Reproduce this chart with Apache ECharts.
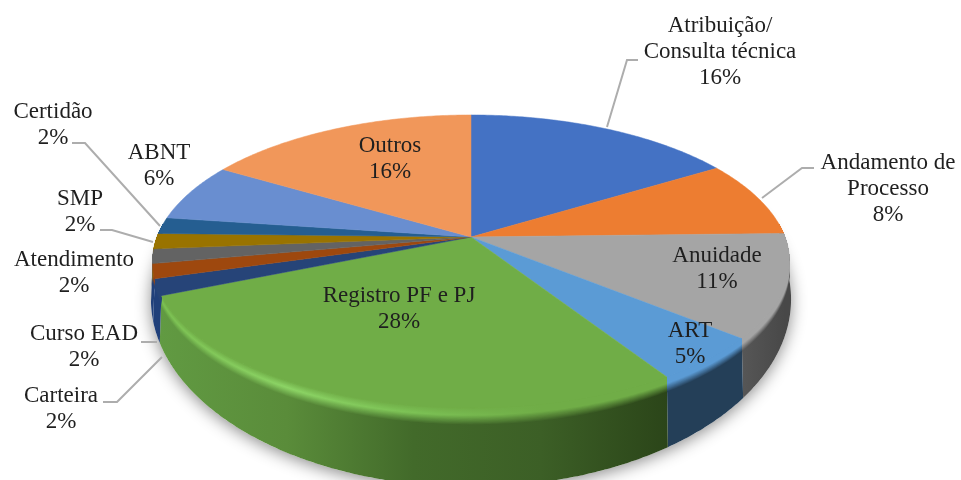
<!DOCTYPE html>
<html>
<head>
<meta charset="utf-8">
<style>
  html, body { margin: 0; padding: 0; background: #fff; }
  #pie { width: 961px; height: 480px; }
</style>
<script src="https://cdn.jsdelivr.net/npm/echarts@6/dist/echarts.min.js"></script>
</head>
<body>
<div id="pie"></div>
<script>
//----------------------Data----------------------
let categories = ["Atribuição/\nConsulta técnica", "Andamento de\nProcesso", "Anuidade", "ART", "Registro PF e PJ",
    "Carteira", "Curso EAD", "Atendimento", "SMP", "Certidão", "ABNT", "Outros"];
let values = [16.2, 8.4, 11.4, 5.0, 27.7, 1.8, 1.6, 1.6, 1.7, 1.8, 6.4, 16.4];
//---------------------Colors---------------------
let top_colors = ["#4472C4", "#ED7D31", "#A5A5A5", "#5B9BD5", "#70AD47", "#264478",
    "#9E480E", "#636363", "#997300", "#255E91", "#698ED0", "#F1975A"];
let wall_colors = [["#2a4a80"], ["#8f4c1e"], ["#565656", "#484848"], ["#243f58"],
    ["#619a42", "#5a8c3a", "#426a2a", "#3c5f26", "#2b4519"],
    ["#20407a"], ["#20407a"], ["#636363"], ["#997300"], ["#255E91"], ["#4f6ea4"], ["#b8744a"]];
// bright rim of the green slice, fading out to the right
let rim_colors = {4: ["#7cc152", "#8dd566", "#7cc255", "#70AD47", "#70AD47"]};
//--------------------Location--------------------
let center_x = 471, center_y = 237;
let persp = 0.167, scale_x = 314, scale_y = 142.4;
let floor_y = 268, floor_scale_x = 1.005, floor_scale_y = 1.28;
let bevel_share = 0.22, bevel_rows = 16, rim_at = 0.45;
let font_family = "'Liberation Serif', serif", font_size = 23, line_height = 26;
let label_pos = [[720, 52], [888, 189], [717, 269], [690, 344], [399, 309],
    [61, 409], [84, 347], [74, 273], [80, 212], [53, 125], [159, 166], [390, 159]];
let leader_lines = [
    [[607, 127], [627, 60], [638, 60]],
    [[762, 198], [802, 168], [814, 168]],
    null, null, null,
    [[103, 402], [117, 402], [162, 357]],
    [[141, 342], [157, 342]],
    null,
    [[100, 230], [112, 230], [153, 242]],
    [[72, 143], [85, 143], [160, 226]],
    null, null
];
//--------------------Geometry--------------------
let total = values.reduce((a, b) => a + b, 0);
let slice_start = [];
let running = 0;
values.forEach(function (v) { slice_start.push(running / total * Math.PI * 2); running += v; });

function top_point(theta) {
    let u = Math.sin(theta), v = -Math.cos(theta), w = 1 - persp * v;
    return [center_x + scale_x * u / w, center_y + scale_y * v / w];
}
function floor_point(theta) {
    let u = Math.sin(theta), v = -Math.cos(theta), w = 1 - persp * v;
    return [center_x + floor_scale_x * scale_x * u / w, floor_y + floor_scale_y * scale_y * v / w];
}
function wall_point(theta, f) {
    let a = top_point(theta), b = floor_point(theta);
    return [a[0] + (b[0] - a[0]) * f, a[1] + (b[1] - a[1]) * f];
}
function slice_range(i) {
    let a = slice_start[i];
    let b = i + 1 < values.length ? slice_start[i + 1] : Math.PI * 2;
    return [a, b];
}
function arc_thetas(a, b) {
    let n = Math.max(2, Math.ceil((b - a) / 0.01));
    let out = [];
    for (let i = 0; i <= n; i++) out.push(a + (b - a) * i / n);
    return out;
}
//---------------------Colors---------------------
function to_rgb(hex) {
    return [1, 3, 5].map(s => parseInt(hex.substr(s, 2), 16));
}
function mix(c1, c2, t) {
    let a = to_rgb(c1), b = to_rgb(c2);
    return "#" + a.map((x, i) => Math.round(x + (b[i] - x) * t).toString(16).padStart(2, "0")).join("");
}
// colour of a bevel row: top colour, then the rim, then the wall
function bevel_color(i, stop, wall, t) {
    let rim = rim_colors[i] ? rim_colors[i][stop] : top_colors[i];
    if (t < rim_at) return mix(top_colors[i], rim, t / rim_at);
    return mix(rim, wall, (t - rim_at) / (1 - rim_at));
}
function wall_fill(i, x0, x1, t) {
    let list = wall_colors[i].length === 1 ? [wall_colors[i][0], wall_colors[i][0]] : wall_colors[i];
    let color_stops = list.map((c, n) => ({offset: n / (list.length - 1), color: bevel_color(i, n, c, t)}));
    return new echarts.graphic.LinearGradient(x0, 0, x1, 0, color_stops, true);
}
//---------------------Series---------------------
function render_shadow() {
    let pts = arc_thetas(Math.PI * 0.4, Math.PI * 1.6).map(floor_point);
    return {
        type: "polygon",
        shape: {points: pts},
        style: {fill: "#fff", shadowBlur: 16, shadowColor: "rgba(0,0,0,0.45)", shadowOffsetY: 3}
    };
}
function wall_band(thetas, f) {
    return thetas.map(t => wall_point(t, 0)).concat(thetas.slice().reverse().map(t => wall_point(t, f)));
}
function render_wall(params) {
    let i = params.dataIndex;
    let r = slice_range(i);
    let a = Math.max(r[0], Math.PI * 0.47), b = Math.min(r[1], Math.PI * 1.53);
    if (b <= a) return null;
    let thetas = arc_thetas(a, b);
    let x0 = Math.min(floor_point(a)[0], floor_point(b)[0]);
    let x1 = Math.max(floor_point(a)[0], floor_point(b)[0]);
    let kids = [{
        type: "polygon",
        shape: {points: wall_band(thetas, 1)},
        style: {fill: wall_fill(i, x0, x1, 1)}
    }];
    // deepest row first, each one painted over the last so no seams show
    for (let n = bevel_rows - 1; n >= 0; n--) {
        kids.push({
            type: "polygon",
            shape: {points: wall_band(thetas, bevel_share * (n + 1) / bevel_rows)},
            style: {fill: wall_fill(i, x0, x1, (n + 1) / bevel_rows)}
        });
    }
    return {type: "group", children: kids};
}
function render_top(params) {
    let i = params.dataIndex;
    let r = slice_range(i);
    let pts = [[center_x, center_y]].concat(arc_thetas(r[0], r[1]).map(top_point));
    return {
        type: "polygon",
        shape: {points: pts},
        style: {fill: top_colors[i], stroke: top_colors[i], lineWidth: 0.5}
    };
}
function render_label(params) {
    let i = params.dataIndex;
    let kids = [{
        type: "text",
        x: label_pos[i][0],
        y: label_pos[i][1],
        style: {
            text: categories[i] + "\n" + Math.round(values[i]) + "%",
            fontFamily: font_family,
            fontSize: font_size,
            lineHeight: line_height,
            fill: "#1f1f1f",
            align: "center",
            verticalAlign: "middle"
        }
    }];
    if (leader_lines[i]) {
        kids.push({
            type: "polyline",
            shape: {points: leader_lines[i]},
            style: {fill: "none", stroke: "#adadad", lineWidth: 2}
        });
    }
    return {type: "group", children: kids};
}
function custom_series(render, z, data) {
    return {
        type: "custom",
        coordinateSystem: "none",
        renderItem: render,
        data: data,
        z: z,
        silent: true,
        animation: false
    };
}
//------------------Generate Graph------------------
let pie_chart = echarts.init(document.getElementById("pie"));
pie_chart.setOption({
    backgroundColor: "#fff",
    animation: false,
    series: [
        custom_series(render_shadow, 1, [1]),
        custom_series(render_wall, 2, values),
        custom_series(render_top, 3, values),
        custom_series(render_label, 4, values)
    ]
});
</script>
</body>
</html>
